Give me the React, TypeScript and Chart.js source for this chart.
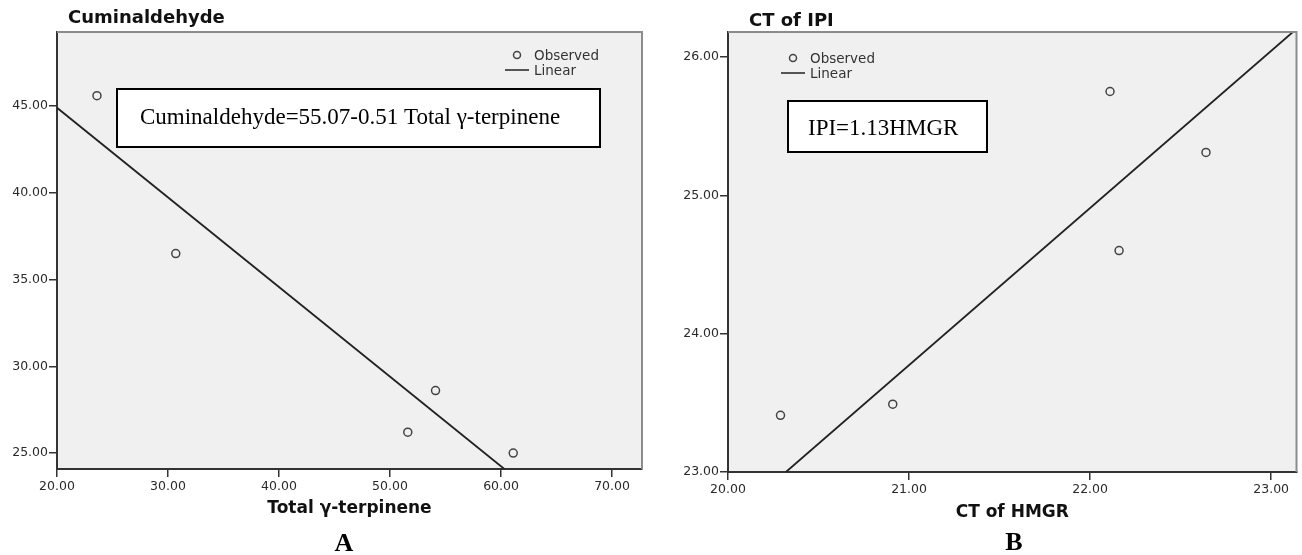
import React, { useEffect, useRef } from "react";
import { Chart, registerables } from "chart.js";

Chart.register(...registerables);

// ---------- Panel A data ----------
const totalGammaTerpinene = [23.6, 30.7, 51.6, 54.1, 61.1];
const cuminaldehyde = [45.6, 36.5, 26.2, 28.6, 25.0];
const fitAX = [20.0, 60.3];
const fitAY = [44.9, 24.08];
const ticksAX = [20, 30, 40, 50, 60, 70];
const ticksAY = [25, 30, 35, 40, 45];

// ---------- Panel B data ----------
const ctHMGR = [20.29, 20.91, 22.11, 22.16, 22.64];
const ctIPI = [23.41, 23.49, 25.75, 24.6, 25.31];
const fitBX = [20.32, 23.12];
const fitBY = [23.0, 26.18];
const ticksBX = [20, 21, 22, 23];
const ticksBY = [23, 24, 25, 26];

const SANS = "'DejaVu Sans', Verdana, sans-serif";
const SERIF = "'Liberation Serif', 'Times New Roman', serif";

type PanelSpec = {
  xs: number[];
  ys: number[];
  fitX: number[];
  fitY: number[];
  ticksX: number[];
  ticksY: number[];
  xMin: number;
  xMax: number;
  yMin: number;
  yMax: number;
  yAxisWidth: number;
  xAxisHeight: number;
  padRight: number;
  title: string;
  titleX: number;
  titleY: number;
  legendX: number;
  legendY: number;
  box: { x: number; y: number; w: number; h: number; text: string; tx: number; ty: number };
  xTitle: string;
  xTitleY: number;
  letter: string;
  letterX: number;
  letterY: number;
};

function decorPlugin(spec: PanelSpec) {
  return {
    id: "decor",
    beforeDraw(chart: any) {
      const { ctx, chartArea } = chart;
      ctx.save();
      ctx.fillStyle = "#f0f0f0";
      ctx.fillRect(chartArea.left, chartArea.top, chartArea.right - chartArea.left, chartArea.bottom - chartArea.top);
      ctx.restore();
    },
    afterDraw(chart: any) {
      const { ctx, chartArea } = chart;
      ctx.save();
      ctx.strokeStyle = "#8c8c8c";
      ctx.lineWidth = 2;
      ctx.beginPath();
      ctx.moveTo(chartArea.left, chartArea.top);
      ctx.lineTo(chartArea.right, chartArea.top);
      ctx.lineTo(chartArea.right, chartArea.bottom);
      ctx.stroke();

      ctx.fillStyle = "#111";
      ctx.font = `bold 18px ${SANS}`;
      ctx.textAlign = "left";
      ctx.textBaseline = "middle";
      ctx.fillText(spec.title, spec.titleX, spec.titleY);

      ctx.strokeStyle = "#444";
      ctx.lineWidth = 1.5;
      ctx.beginPath();
      ctx.arc(spec.legendX, spec.legendY, 3.5, 0, Math.PI * 2);
      ctx.stroke();
      ctx.strokeStyle = "#222";
      ctx.lineWidth = 1.5;
      ctx.beginPath();
      ctx.moveTo(spec.legendX - 12, spec.legendY + 15);
      ctx.lineTo(spec.legendX + 12, spec.legendY + 15);
      ctx.stroke();
      ctx.fillStyle = "#333";
      ctx.font = `13.5px ${SANS}`;
      ctx.fillText("Observed", spec.legendX + 17, spec.legendY + 1);
      ctx.fillText("Linear", spec.legendX + 17, spec.legendY + 16);

      const b = spec.box;
      ctx.fillStyle = "#ffffff";
      ctx.fillRect(b.x, b.y, b.w, b.h);
      ctx.strokeStyle = "#000";
      ctx.lineWidth = 2;
      ctx.strokeRect(b.x, b.y, b.w, b.h);
      ctx.fillStyle = "#000";
      ctx.font = `23px ${SERIF}`;
      ctx.textBaseline = "alphabetic";
      ctx.fillText(b.text, b.tx, b.ty);

      ctx.fillStyle = "#111";
      ctx.font = `bold 17px ${SANS}`;
      ctx.textAlign = "center";
      ctx.textBaseline = "middle";
      ctx.fillText(spec.xTitle, (chartArea.left + chartArea.right) / 2, spec.xTitleY);

      ctx.font = `bold 26px ${SERIF}`;
      ctx.fillStyle = "#000";
      ctx.fillText(spec.letter, spec.letterX, spec.letterY);
      ctx.restore();
    },
  };
}

function buildChart(canvas: HTMLCanvasElement, spec: PanelSpec) {
  const tickFont = { family: SANS, size: 12.5 };
  return new Chart(canvas, {
    type: "scatter",
    data: {
      datasets: [
        {
          label: "Observed",
          data: spec.xs.map((x, i) => ({ x, y: spec.ys[i] })),
          pointRadius: 4,
          pointBorderWidth: 1.5,
          pointBorderColor: "#444",
          pointBackgroundColor: "rgba(0,0,0,0)",
          showLine: false,
        },
        {
          label: "Linear",
          data: spec.fitX.map((x, i) => ({ x, y: spec.fitY[i] })),
          showLine: true,
          borderColor: "#222",
          borderWidth: 1.8,
          pointRadius: 0,
          fill: false,
        },
      ],
    },
    options: {
      responsive: false,
      animation: false,
      devicePixelRatio: 1,
      layout: { padding: { left: 0, right: spec.padRight, top: 32, bottom: 0 } },
      plugins: { legend: { display: false }, tooltip: { enabled: false }, title: { display: false } },
      scales: {
        x: {
          type: "linear",
          min: spec.xMin,
          max: spec.xMax,
          afterBuildTicks: (s: any) => {
            s.ticks = spec.ticksX.map((v) => ({ value: v }));
          },
          afterFit: (s: any) => {
            s.height = spec.xAxisHeight;
          },
          grid: { drawOnChartArea: false, drawTicks: true, tickLength: 8, color: "#333", lineWidth: 1.5 },
          border: { display: true, color: "#333", width: 2 },
          ticks: {
            font: tickFont,
            color: "#2a2a2a",
            padding: 2,
            maxRotation: 0,
            autoSkip: false,
            callback: (v: any) => Number(v).toFixed(2),
          },
        },
        y: {
          type: "linear",
          min: spec.yMin,
          max: spec.yMax,
          afterBuildTicks: (s: any) => {
            s.ticks = spec.ticksY.map((v) => ({ value: v }));
          },
          afterFit: (s: any) => {
            s.width = spec.yAxisWidth;
          },
          grid: { drawOnChartArea: false, drawTicks: true, tickLength: 8, color: "#333", lineWidth: 1.5 },
          border: { display: true, color: "#333", width: 2 },
          ticks: {
            font: tickFont,
            color: "#2a2a2a",
            padding: 1,
            autoSkip: false,
            callback: (v: any) => Number(v).toFixed(2),
          },
        },
      },
    },
    plugins: [decorPlugin(spec)],
  } as any);
}

const specA: PanelSpec = {
  xs: totalGammaTerpinene,
  ys: cuminaldehyde,
  fitX: fitAX,
  fitY: fitAY,
  ticksX: ticksAX,
  ticksY: ticksAY,
  xMin: 20,
  xMax: 72.7,
  yMin: 24.08,
  yMax: 49.27,
  yAxisWidth: 57,
  xAxisHeight: 86,
  padRight: 9,
  title: "Cuminaldehyde",
  titleX: 68,
  titleY: 18,
  legendX: 517,
  legendY: 55,
  box: { x: 117, y: 89, w: 483, h: 58, text: "Cuminaldehyde=55.07-0.51 Total γ-terpinene", tx: 140, ty: 124 },
  xTitle: "Total γ-terpinene",
  xTitleY: 509,
  letter: "A",
  letterX: 344,
  letterY: 544,
};

const specB: PanelSpec = {
  xs: ctHMGR,
  ys: ctIPI,
  fitX: fitBX,
  fitY: fitBY,
  ticksX: ticksBX,
  ticksY: ticksBY,
  xMin: 20,
  xMax: 23.14,
  yMin: 23,
  yMax: 26.18,
  yAxisWidth: 77,
  xAxisHeight: 83,
  padRight: 2,
  title: "CT of IPI",
  titleX: 98,
  titleY: 21,
  legendX: 142,
  legendY: 58,
  box: { x: 137, y: 101, w: 199, h: 51, text: "IPI=1.13HMGR", tx: 157, ty: 135 },
  xTitle: "CT of HMGR",
  xTitleY: 513,
  letter: "B",
  letterX: 363,
  letterY: 543,
};

export default function App() {
  const refA = useRef<HTMLCanvasElement>(null);
  const refB = useRef<HTMLCanvasElement>(null);

  useEffect(() => {
    const a = buildChart(refA.current!, specA);
    const b = buildChart(refB.current!, specB);
    return () => {
      a.destroy();
      b.destroy();
    };
  }, []);

  return (
    <div style={{ position: "absolute", left: 0, top: 0, width: 1302, height: 555, background: "#fff", overflow: "hidden" }}>
      <canvas ref={refA} width={651} height={555} style={{ position: "absolute", left: 0, top: 0, width: 651, height: 555 }} />
      <canvas ref={refB} width={651} height={555} style={{ position: "absolute", left: 651, top: 0, width: 651, height: 555 }} />
    </div>
  );
}
